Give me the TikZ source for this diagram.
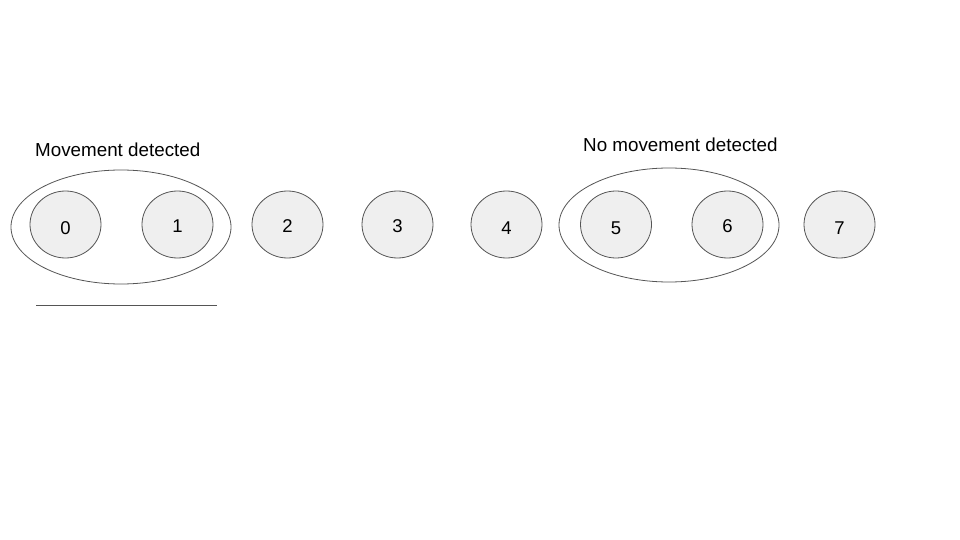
\documentclass[tikz,border=0pt]{standalone}
\usepackage{fontspec}
\setmainfont{Liberation Sans}
\usetikzlibrary{shapes.geometric}
\definecolor{cellfill}{HTML}{EFEFEF}
\definecolor{edgegray}{HTML}{555555}
\newcommand{\celltext}[2]{\raisebox{-#1pt}{#2}}
\tikzset{
  cell/.style={ellipse, draw=edgegray, fill=cellfill, line width=0.8pt,
    minimum width=71pt, minimum height=67pt, inner sep=0pt,
    text height=13pt, text depth=0pt,
    font=\fontsize{18.5}{20}\selectfont},
  group/.style={ellipse, draw=edgegray, line width=0.8pt,
    minimum width=220pt, minimum height=114pt, inner sep=0pt},
  grouplabel/.style={font=\fontsize{18.8}{21}\selectfont, inner sep=0pt, anchor=west},
  rule/.style={draw=edgegray, line width=0.8pt}
}
\begin{document}
\begin{tikzpicture}[x=1pt, y=-1pt]
  \useasboundingbox[fill=white] (0,0) rectangle (960,540);
  \node[group] (g1) at (121,227) {};
  \node[group] (g2) at (669,225) {};
  \node[cell] (c0) at (65.5,224.5) {\celltext{3}{0}};
  \node[cell] (c1) at (177.5,224.5) {\celltext{1.4}{1}};
  \node[cell] (c2) at (287.5,224.5) {\celltext{1.8}{2}};
  \node[cell] (c3) at (397.5,224.5) {\celltext{1.4}{3}};
  \node[cell] (c4) at (506.5,224.5) {\celltext{3.7}{4}};
  \node[cell] (c5) at (616,224.5) {\celltext{3.2}{5}};
  \node[cell] (c6) at (727.5,224.5) {\celltext{1.4}{6}};
  \node[cell] (c7) at (839.5,224.5) {\celltext{3.5}{7}};
  \node[grouplabel] (l1) at (35,150) {Movement detected};
  \node[grouplabel] (l2) at (583,145) {No movement detected};
  \coordinate (r1) at (36,305);
  \coordinate (r2) at (217,305);
  \draw[rule] (r1) -- (r2);
\end{tikzpicture}
\end{document}
